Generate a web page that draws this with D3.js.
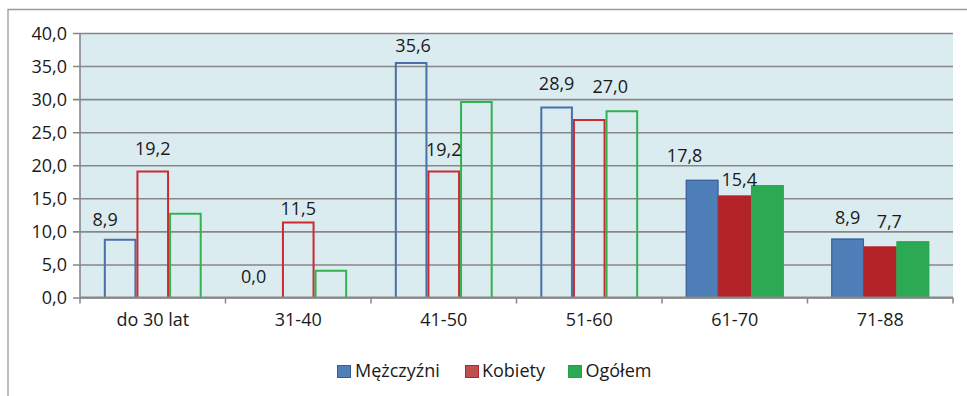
<!DOCTYPE html>
<html>
<head>
<meta charset="utf-8">
<script src="https://cdn.jsdelivr.net/npm/d3@7"></script>
<style>
  html, body { margin: 0; padding: 0; background: #fff; }
  svg { display: block; }
  text { font-family: "Open Sans", "Noto Sans", sans-serif; fill: #1a1a1a; }
</style>
</head>
<body>
<svg id="chart" width="967" height="396"></svg>
<script>
// Age groups and share (%) per group
const categories = ["do 30 lat", "31-40", "41-50", "51-60", "61-70", "71-88"];
const series = ["Mężczyźni", "Kobiety", "Ogółem"];
const mezczyzni = [8.9, 0.0, 35.6, 28.9, 17.8, 8.9];
const kobiety   = [19.2, 11.5, 19.2, 27.0, 15.4, 7.7];
const ogolem    = [12.8, 4.2, 29.7, 28.3, 17.0, 8.5];
const yTicks = [0, 5, 10, 15, 20, 25, 30, 35, 40];
// groups drawn as solid columns (the rest are outlined only)
const solidGroups = ["61-70", "71-88"];
// series that carry value labels
const labelledSeries = ["Mężczyźni", "Kobiety"];

const values = { "Mężczyźni": mezczyzni, "Kobiety": kobiety, "Ogółem": ogolem };

const svg = d3.select("#chart");
const fmt = v => d3.format(".1f")(v).replace(".", ",");

const plot = { left: 80, right: 953, top: 33, bottom: 297.5 };

const x = d3.scaleBand().domain(categories).range([plot.left, plot.right]).padding(0);
const xs = d3.scaleBand().domain(series).range([0, x.bandwidth()])
  .paddingInner(0).paddingOuter(0.73);
const y = d3.scaleLinear().domain([0, 40]).range([plot.bottom, plot.top]);

const fillColor = { "Mężczyźni": "#4f7fb8", "Kobiety": "#b42327", "Ogółem": "#2caa53" };
const edgeColor = { "Mężczyźni": "#3b6299", "Kobiety": "#b42327", "Ogółem": "#2caa53" };
const lineColor = { "Mężczyźni": "#4a70a8", "Kobiety": "#cc2a2e", "Ogółem": "#31b250" };
const legendFill = { "Mężczyźni": "#4f7fb8", "Kobiety": "#c0504d", "Ogółem": "#2caa53" };
const legendEdge = { "Mężczyźni": "#385d8a", "Kobiety": "#b0282a", "Ogółem": "#27a04c" };

// outer frame
svg.append("path")
  .attr("d", "M8,396 V9.5 H967")
  .attr("fill", "none").attr("stroke", "#9a9a9a").attr("stroke-width", 1.3);

// plot background
svg.append("rect")
  .attr("x", plot.left).attr("y", plot.top)
  .attr("width", plot.right - plot.left).attr("height", plot.bottom - plot.top)
  .attr("fill", "#dbecf1");

// y axis with gridlines
const yAxis = svg.append("g")
  .attr("transform", `translate(${plot.left},0)`)
  .call(d3.axisLeft(y).tickValues(yTicks).tickFormat(fmt)
    .tickSize(-(plot.right - plot.left)).tickPadding(13));
yAxis.select(".domain").remove();
yAxis.selectAll(".tick line")
  .attr("x1", -7)
  .attr("stroke", "#878787").attr("stroke-width", 1.6);
yAxis.selectAll(".tick text")
  .style("font-size", "18px").attr("fill", "#1a1a1a").attr("dy", "0.35em");

svg.append("line")
  .attr("x1", plot.left).attr("x2", plot.left)
  .attr("y1", plot.top).attr("y2", plot.bottom)
  .attr("stroke", "#878787").attr("stroke-width", 1.6);

// bars
const rows = [];
categories.forEach((c, i) => series.forEach(s => rows.push({ cat: c, ser: s, v: values[s][i] })));

const bars = svg.append("g");
rows.forEach(d => {
  const x0 = x(d.cat) + xs(d.ser);
  const w = xs.bandwidth();
  const top = y(d.v);
  if (solidGroups.includes(d.cat)) {
    bars.append("rect")
      .attr("x", x0).attr("y", top)
      .attr("width", w).attr("height", y(0) - top)
      .attr("fill", fillColor[d.ser]);
    bars.append("path")
      .attr("d", `M${x0 + 0.5},${y(0)} V${top + 0.5} H${x0 + w - 0.5} V${y(0)}`)
      .attr("fill", "none").attr("stroke", edgeColor[d.ser]).attr("stroke-width", 1.2);
  } else if (d.v > 0) {
    bars.append("path")
      .attr("d", `M${x0 + 1},${y(0)} V${top + 1} H${x0 + w - 1} V${y(0)}`)
      .attr("fill", "none").attr("stroke", lineColor[d.ser]).attr("stroke-width", 2);
  }
});

// x axis
const xAxis = svg.append("g")
  .attr("transform", `translate(0,${plot.bottom})`)
  .call(d3.axisBottom(x).tickSize(0).tickPadding(20));
xAxis.select(".domain")
  .attr("d", `M${plot.left},0 H${plot.right}`)
  .attr("stroke", "#878787").attr("stroke-width", 2);
xAxis.selectAll(".tick text").style("font-size", "18px").attr("fill", "#1a1a1a").attr("dy", "0.45em");
const bounds = categories.map(c => x(c)).concat([plot.right]);
xAxis.selectAll(".bound").data(bounds).enter().append("line")
  .attr("x1", d => d).attr("x2", d => d).attr("y1", 0).attr("y2", 6)
  .attr("stroke", "#878787").attr("stroke-width", 1.5);

// value labels (a few shifted clear of neighbouring columns)
const labelNudge = {
  "do 30 lat|Mężczyźni": [-15, 2], "do 30 lat|Kobiety": [0, -1],
  "31-40|Mężczyźni": [-12, 0], "31-40|Kobiety": [0, 8.5],
  "41-50|Mężczyźni": [2, 4.3], "41-50|Kobiety": [0, 0],
  "51-60|Mężczyźni": [0, -2], "51-60|Kobiety": [21, -11],
  "61-70|Mężczyźni": [-17.5, -3], "61-70|Kobiety": [4.5, 5],
  "71-88|Mężczyźni": [0, -0.6], "71-88|Kobiety": [9, -4]
};
const labels = svg.append("g");
rows.filter(d => labelledSeries.includes(d.ser)).forEach(d => {
  const n = labelNudge[d.cat + "|" + d.ser] || [0, 0];
  labels.append("text")
    .attr("x", x(d.cat) + xs(d.ser) + xs.bandwidth() / 2 + n[0])
    .attr("y", y(d.v) - 21 + n[1])
    .attr("dy", "0.36em")
    .attr("text-anchor", "middle")
    .style("font-size", "18px")
    .text(fmt(d.v));
});

// legend
const legendItems = [
  { s: "Mężczyźni", box: 337.5, tx: 355 },
  { s: "Kobiety", box: 465.5, tx: 482 },
  { s: "Ogółem", box: 568.5, tx: 585.5 }
];
const legend = svg.append("g");
legendItems.forEach(it => {
  legend.append("rect")
    .attr("x", it.box).attr("y", 365.5).attr("width", 13).attr("height", 12)
    .attr("fill", legendFill[it.s]).attr("stroke", legendEdge[it.s]).attr("stroke-width", 1);
  legend.append("text")
    .attr("x", it.tx).attr("y", 377)
    .style("font-size", "18px")
    .text(it.s);
});
</script>
</body>
</html>
